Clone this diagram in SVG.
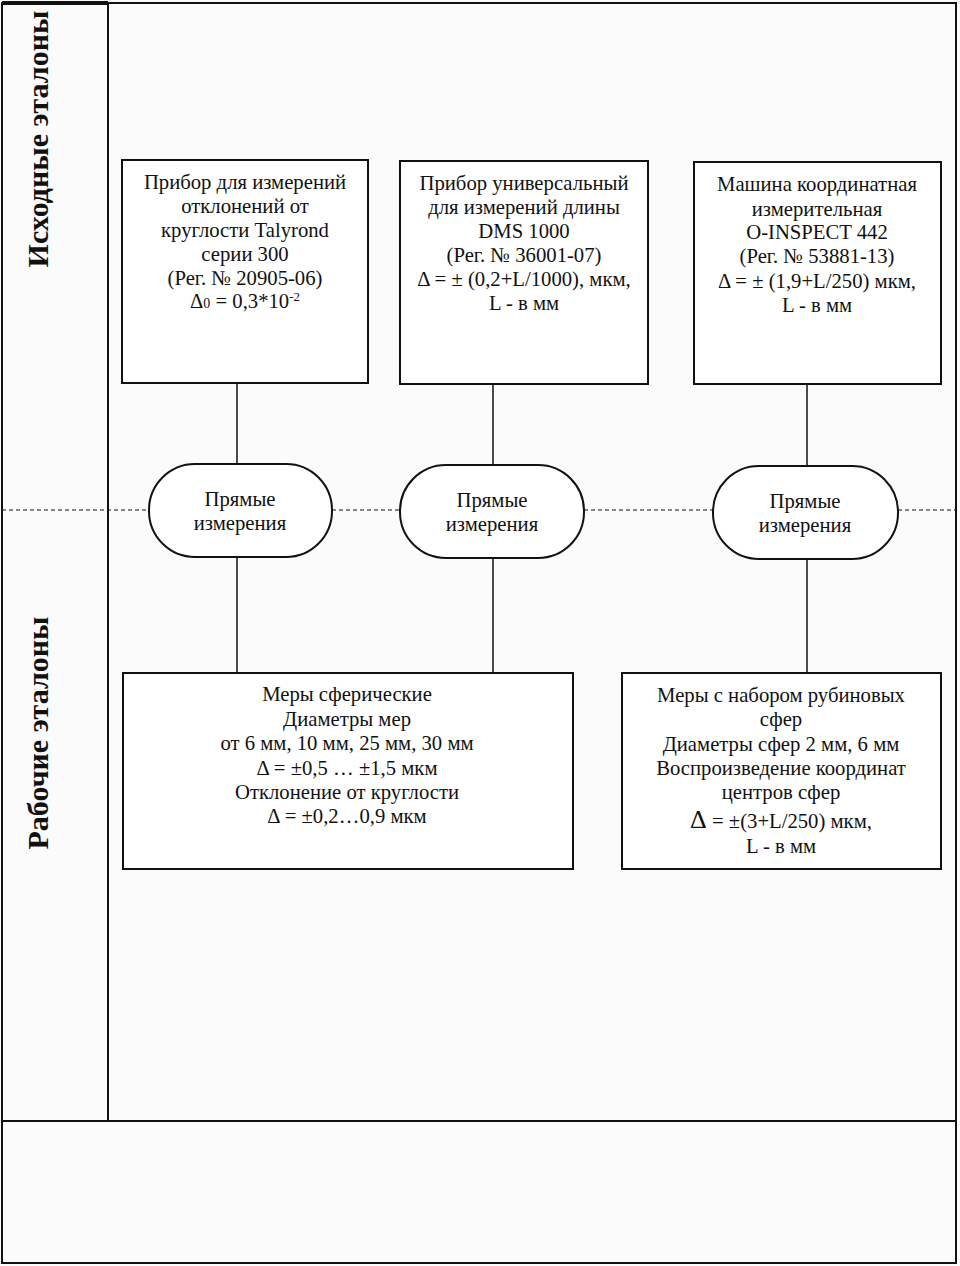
<svg xmlns="http://www.w3.org/2000/svg" width="960" height="1266" viewBox="0 0 960 1266">
<style>
.frame{fill:none;stroke:#111;stroke-width:2}
.box{fill:#fff;stroke:#111;stroke-width:2}
.t{font-family:"Liberation Serif","Times New Roman",serif;font-size:20.7px;fill:#111;text-anchor:middle}
.side{font-family:"Liberation Serif","Times New Roman",serif;font-size:30px;font-weight:bold;fill:#111;text-anchor:middle}
.conn{stroke:#111;stroke-width:1.5;fill:none}
.dash{stroke:#111;stroke-width:1.2;stroke-dasharray:4 3;fill:none}
</style>
<rect width="960" height="1266" fill="#fbfbfb"/>
<g id="frame">
<rect class="frame" x="2" y="3" width="954" height="1260"/>
<line class="frame" x1="108" y1="3" x2="108" y2="1121"/>
<line class="frame" x1="2" y1="1121" x2="956" y2="1121"/>
<line x1="2" y1="3" x2="108" y2="3" stroke="#111" stroke-width="4"/>
</g>
<g id="labels">
<text class="side" transform="translate(48,139) rotate(-90)">Исходные эталоны</text>
<text class="side" transform="translate(48,733) rotate(-90)">Рабочие эталоны</text>
</g>
<g id="connectors">
<line class="dash" x1="2" y1="510" x2="149" y2="510"/>
<line class="dash" x1="332" y1="510" x2="400" y2="510"/>
<line class="dash" x1="584" y1="510" x2="713" y2="510"/>
<line class="dash" x1="898" y1="510" x2="956" y2="510"/>
<line class="conn" x1="237" y1="383" x2="237" y2="464"/>
<line class="conn" x1="237" y1="557" x2="237" y2="673"/>
<line class="conn" x1="493" y1="384" x2="493" y2="465"/>
<line class="conn" x1="493" y1="558" x2="493" y2="673"/>
<line class="conn" x1="807" y1="384" x2="807" y2="466"/>
<line class="conn" x1="807" y1="559" x2="807" y2="673"/>
</g>
<g id="node-talyrond">
<rect class="box" x="122" y="160" width="246" height="223"/>
<text class="t" x="245" y="189">Прибор для измерений</text>
<text class="t" x="245" y="213">отклонений от</text>
<text class="t" x="245" y="237">круглости Talyrond</text>
<text class="t" x="245" y="261">серии 300</text>
<text class="t" x="245" y="285">(Рег. № 20905-06)</text>
<text class="t" x="245" y="308">Δ<tspan font-size="14">0</tspan> = 0,3*10<tspan font-size="13" dy="-7">-2</tspan></text>
</g>
<g id="node-dms">
<rect class="box" x="400" y="161" width="248" height="223"/>
<text class="t" x="524" y="190">Прибор универсальный</text>
<text class="t" x="524" y="214">для измерений длины</text>
<text class="t" x="524" y="238">DMS 1000</text>
<text class="t" x="524" y="262">(Рег. № 36001-07)</text>
<text class="t" x="524" y="286">Δ = ± (0,2+L/1000), мкм,</text>
<text class="t" x="524" y="310">L - в мм</text>
</g>
<g id="node-oinspect">
<rect class="box" x="694" y="162" width="247" height="222"/>
<text class="t" x="817" y="191">Машина координатная</text>
<text class="t" x="817" y="216">измерительная</text>
<text class="t" x="817" y="239">O-INSPECT 442</text>
<text class="t" x="817" y="263">(Рег. № 53881-13)</text>
<text class="t" x="817" y="288">Δ = ± (1,9+L/250) мкм,</text>
<text class="t" x="817" y="312">L - в мм</text>
</g>
<g id="node-direct1">
<rect class="box" x="149" y="464" width="183" height="93" rx="46" ry="46"/>
<text class="t" x="240" y="506">Прямые</text>
<text class="t" x="240" y="530">измерения</text>
</g>
<g id="node-direct2">
<rect class="box" x="400" y="465" width="184" height="93" rx="46" ry="46"/>
<text class="t" x="492" y="507">Прямые</text>
<text class="t" x="492" y="531">измерения</text>
</g>
<g id="node-direct3">
<rect class="box" x="713" y="466" width="185" height="93" rx="46" ry="46"/>
<text class="t" x="805" y="508">Прямые</text>
<text class="t" x="805" y="532">измерения</text>
</g>
<g id="node-spheres">
<rect class="box" x="123" y="673" width="450" height="196"/>
<text class="t" x="347" y="701">Меры сферические</text>
<text class="t" x="347" y="726">Диаметры мер</text>
<text class="t" x="347" y="750">от 6 мм, 10 мм, 25 мм, 30 мм</text>
<text class="t" x="347" y="775">Δ = ±0,5 … ±1,5 мкм</text>
<text class="t" x="347" y="799">Отклонение от круглости</text>
<text class="t" x="347" y="823">Δ = ±0,2…0,9 мкм</text>
</g>
<g id="node-ruby">
<rect class="box" x="622" y="673" width="319" height="196"/>
<text class="t" x="781" y="702">Меры с набором рубиновых</text>
<text class="t" x="781" y="726">сфер</text>
<text class="t" x="781" y="751">Диаметры сфер 2 мм, 6 мм</text>
<text class="t" x="781" y="775">Воспроизведение координат</text>
<text class="t" x="781" y="799">центров сфер</text>
<text class="t" x="781" y="828"><tspan font-size="26">Δ</tspan> = ±(3+L/250) мкм,</text>
<text class="t" x="781" y="853">L - в мм</text>
</g>
</svg>
